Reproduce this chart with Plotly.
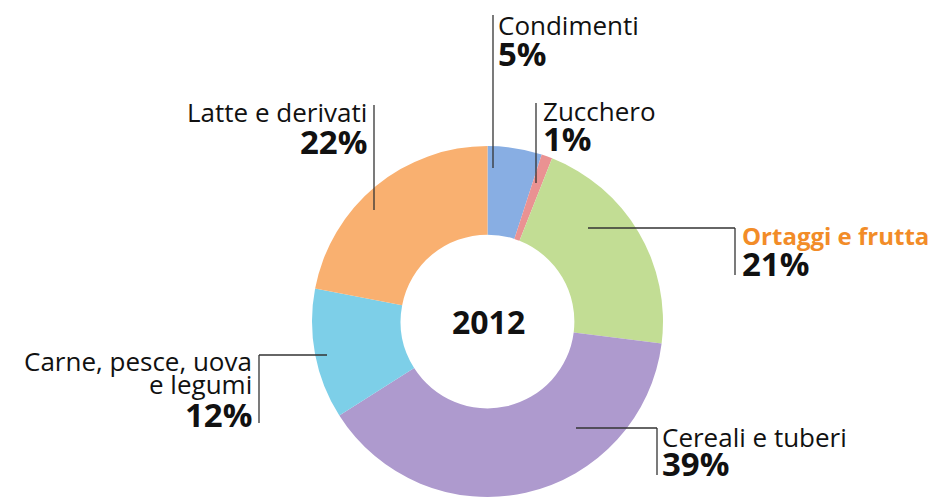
import plotly.graph_objects as go

categories = ["Condimenti", "Zucchero", "Ortaggi e frutta", "Cereali e tuberi",
              "Carne, pesce, uova e legumi", "Latte e derivati"]
values = [5, 1, 21, 39, 12, 22]
colors = ["#88AEE3", "#EA9292", "#C2DD94", "#AE9ACE", "#7DCFE8", "#F9B070"]
center_label = "2012"

W, H = 945, 498
OFF = 8  # page body margin
FONT = "Open Sans"

def px(x):
    return (x - OFF) / W

def py(y):
    return 1 - (y - OFF) / H

CX, CY, R = 487.5, 321.5, 175.5

fig = go.Figure(go.Pie(
    labels=categories, values=values, hole=0.495, sort=False,
    direction="clockwise", rotation=0,
    marker=dict(colors=colors, line=dict(width=0)),
    textinfo="none", hoverinfo="label+percent",
    domain=dict(x=[px(CX - R), px(CX + R)], y=[py(CY + R), py(CY - R)]),
    showlegend=False,
))

# label layout: (label lines, x, line y-centres, anchor, pct y-centre, colour, bold)
label_pos = [
    (["Condimenti"], 497, [25], "left", 53, "#111111", False),
    (["Zucchero"], 542, [111], "left", 138, "#111111", False),
    (["Ortaggi e frutta"], 741, [236], "left", 264, "#F28C28", True),
    (["Cereali e tuberi"], 661, [437], "left", 463, "#111111", False),
    (["Carne, pesce, uova", "e legumi"], 253, [361, 384], "right", 414, "#111111", False),
    (["Latte e derivati"], 368, [112], "right", 141, "#111111", False),
]

annotations = []
for (lines, x, ys, anchor, ypct, col, bold), v in zip(label_pos, values):
    for t, yy in zip(lines, ys):
        annotations.append(dict(x=px(x), y=py(yy), xref="paper", yref="paper",
                                text="<b>%s</b>" % t if bold else t, showarrow=False,
                                xanchor=anchor, yanchor="middle", borderpad=0,
                                font=dict(family=FONT, size=24 if bold else 26, color=col)))
    annotations.append(dict(x=px(x), y=py(ypct), xref="paper", yref="paper",
                            text="<b>%d%%</b>" % v, showarrow=False, xanchor=anchor,
                            yanchor="middle", borderpad=0,
                            font=dict(family=FONT, size=33, color="#111111")))

annotations.append(dict(x=px(CX + 1), y=py(CY), xref="paper", yref="paper",
                        text="<b>%s</b>" % center_label, showarrow=False,
                        font=dict(family=FONT, size=32, color="#111111")))

leaders = [
    [(493, 15), (493, 168)],
    [(536, 103), (536, 183)],
    [(588, 228), (735, 228), (735, 275)],
    [(576, 428), (657, 428), (657, 475)],
    [(327, 355), (259, 355), (259, 423)],
    [(374, 105), (374, 210)],
]
shapes = []
for pts in leaders:
    for (x0, y0), (x1, y1) in zip(pts[:-1], pts[1:]):
        shapes.append(dict(type="line", xref="paper", yref="paper",
                           x0=px(x0), y0=py(y0), x1=px(x1), y1=py(y1),
                           line=dict(color="#333333", width=1.3)))

fig.update_layout(
    width=W, height=H, margin=dict(l=0, r=0, t=0, b=0),
    paper_bgcolor="white", plot_bgcolor="white",
    annotations=annotations, shapes=shapes,
)

fig.write_html("out.html")
